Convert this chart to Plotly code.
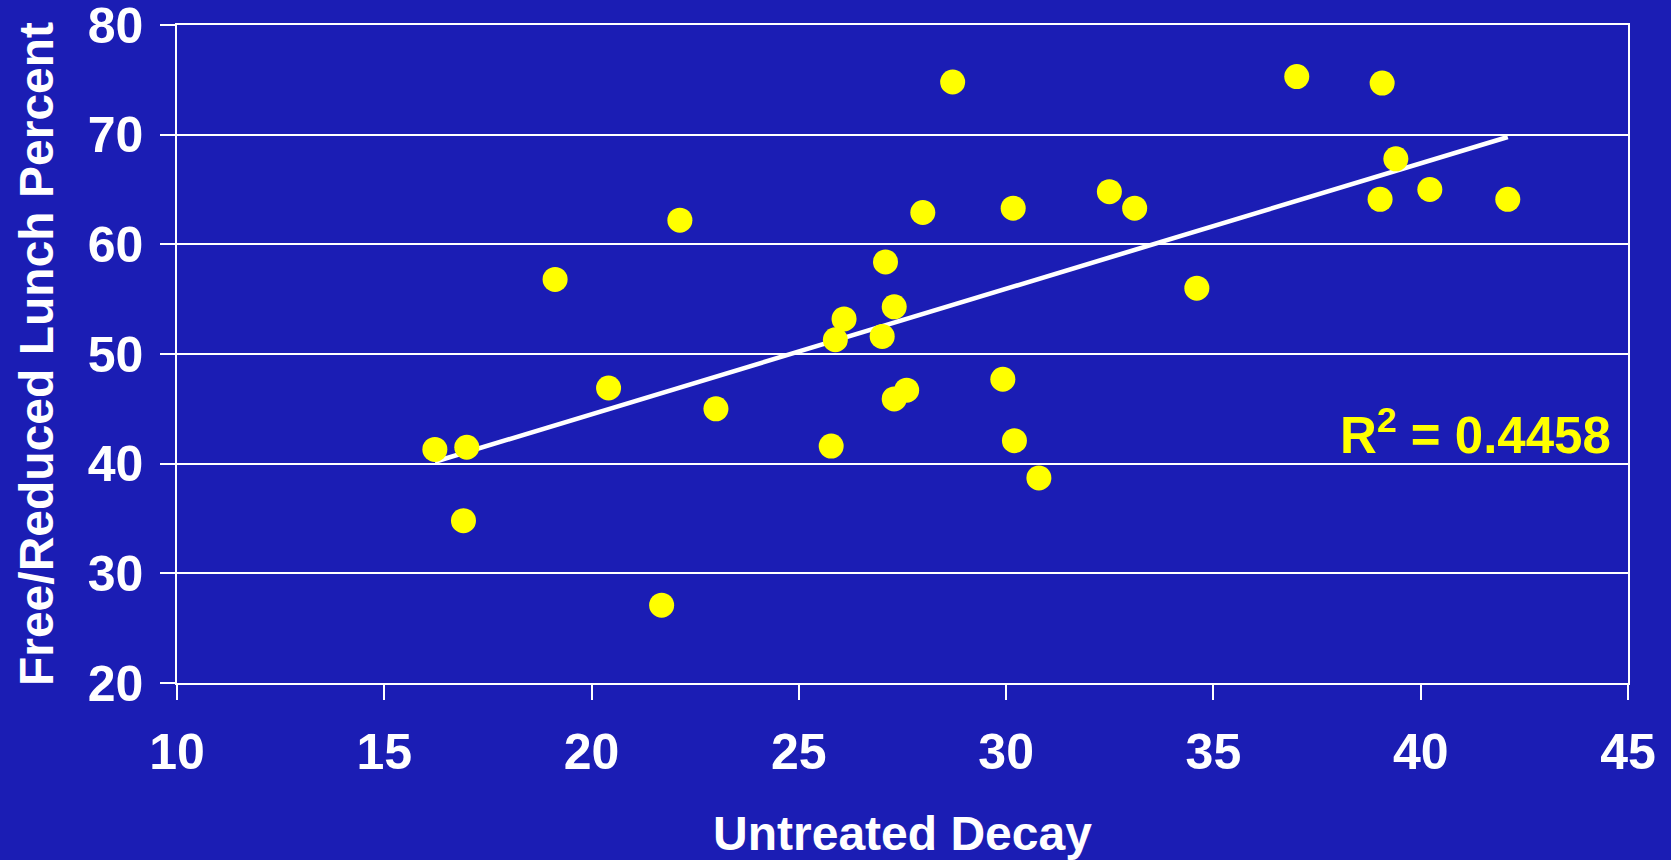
import numpy as np
import plotly.graph_objects as go

untreated_decay = [16.22, 16.99, 16.91, 19.12, 20.41, 21.69, 22.13, 23.00, 25.78, 25.88,
                   26.09, 27.01, 27.09, 27.30, 27.30, 27.60, 27.99, 28.71, 29.92, 30.17,
                   30.20, 30.79, 32.49, 33.10, 34.60, 37.01, 39.07, 39.02, 39.40, 40.22, 42.10]
lunch_percent = [41.3, 41.5, 34.8, 56.8, 46.9, 27.1, 62.2, 45.0, 41.6, 51.3,
                 53.2, 51.6, 58.4, 54.3, 45.9, 46.7, 62.9, 74.8, 47.7, 63.3,
                 42.1, 38.7, 64.8, 63.3, 56.0, 75.3, 74.7, 64.1, 67.8, 65.0, 64.1]
x_ticks = [10, 15, 20, 25, 30, 35, 40, 45]
y_ticks = [20, 30, 40, 50, 60, 70, 80]
r2_label = "R<sup>2</sup> = 0.4458"

BG = "#1B1DB4"
FONT = "Liberation Sans"

xa = np.array(untreated_decay)
ya = np.array(lunch_percent)
slope, intercept = np.polyfit(xa, ya, 1)
tx = [xa.min(), xa.max()]
ty = [slope * v + intercept for v in tx]

fig = go.Figure()
fig.add_trace(go.Scatter(x=tx, y=ty, mode="lines",
                         line=dict(color="white", width=4.6), hoverinfo="skip"))
fig.add_trace(go.Scatter(x=untreated_decay, y=lunch_percent, mode="markers",
                         marker=dict(color="#FFFF00", size=25, line=dict(width=0))))

fig.add_annotation(x=44.63, y=42.9, xref="x", yref="y", text=r2_label,
                   showarrow=False, xanchor="right", yanchor="middle",
                   font=dict(family=FONT, size=51, color="#FFFF00", weight="bold"))

axis_font = dict(family=FONT, size=50, color="white", weight="bold")
title_font = dict(family=FONT, size=48, color="white", weight="bold")
fig.update_layout(
    width=1671, height=860,
    paper_bgcolor=BG, plot_bgcolor=BG,
    showlegend=False,
    margin=dict(l=177, r=43, t=25, b=177),
    xaxis=dict(range=[10, 45], tickvals=x_ticks, showgrid=False, zeroline=False,
               showline=True, linecolor="white", linewidth=1.5, mirror=True,
               ticks="outside", ticklen=15, tickwidth=1.5, tickcolor="white",
               tickfont=axis_font, ticklabelstandoff=9, automargin=False,
               ticklabeloverflow="allow",
               title=dict(text="Untreated Decay", font=title_font, standoff=40)),
    yaxis=dict(range=[20, 80], tickvals=y_ticks, showgrid=True, gridcolor="white", gridwidth=1.5,
               zeroline=False, showline=True, linecolor="white", linewidth=1.5, mirror=True,
               ticks="outside", ticklen=15, tickwidth=1.5, tickcolor="white",
               tickfont=axis_font, ticklabelstandoff=7, automargin=False,
               ticklabeloverflow="allow",
               title=dict(text="Free/Reduced Lunch Percent", font=title_font, standoff=19)),
)
fig.write_html("out.html", config={"displayModeBar": False},
               post_script="document.body.style.margin='0';document.body.style.overflow='hidden';")
